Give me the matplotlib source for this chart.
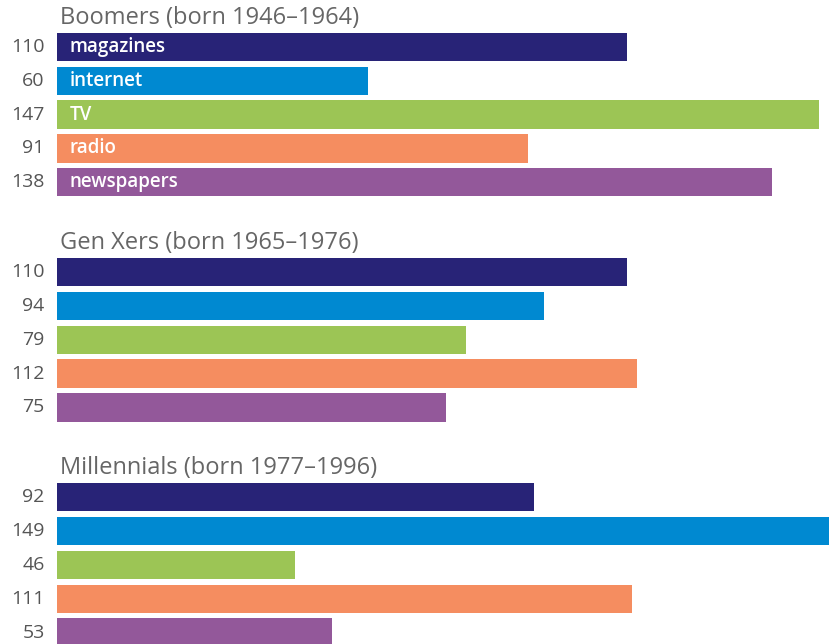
"""
Media use index by generation: grouped horizontal bars.
"""

import matplotlib
matplotlib.use("Agg")
import matplotlib.pyplot as plt

media = ["magazines", "internet", "TV", "radio", "newspapers"]
colors = ["#282377", "#0089D1", "#9CC555", "#F58D60", "#93589A"]

groups = [
    "Boomers (born 1946–1964)",
    "Gen Xers (born 1965–1976)",
    "Millennials (born 1977–1996)",
]
boomers = [110, 60, 147, 91, 138]
gen_x = [110, 94, 79, 112, 75]
millennials = [92, 149, 46, 111, 53]
values = [boomers, gen_x, millennials]

plt.rcParams["font.family"] = ["Open Sans", "DejaVu Sans"]

fig = plt.figure(figsize=(8.32, 6.44), dpi=100)
ax = fig.add_axes([0, 0, 1, 1])

group_step = 6.66
bar_h = 0.84
label_gray = "#555555"
title_gray = "#666666"

for g, (name, vals) in enumerate(zip(groups, values)):
    base = g * group_step
    ax.text(0.6, base - 0.86, name, fontsize=17, color=title_gray,
            ha="left", va="center")
    for i, (m, v, c) in enumerate(zip(media, vals, colors)):
        y = base + i
        ax.barh(y, v, height=bar_h, color=c, left=0)
        ax.text(-2.4, y, str(v), fontsize=14, color=label_gray,
                ha="right", va="center")
        if g == 0:
            ax.text(2.4, y, m, fontsize=13.5, color="white",
                    fontweight="semibold", ha="left", va="center")

ax.set_xlim(-11.0, 149.6)
ax.set_ylim(17.66, -1.39)
ax.axis("off")

fig.savefig("out.png", dpi=100)
